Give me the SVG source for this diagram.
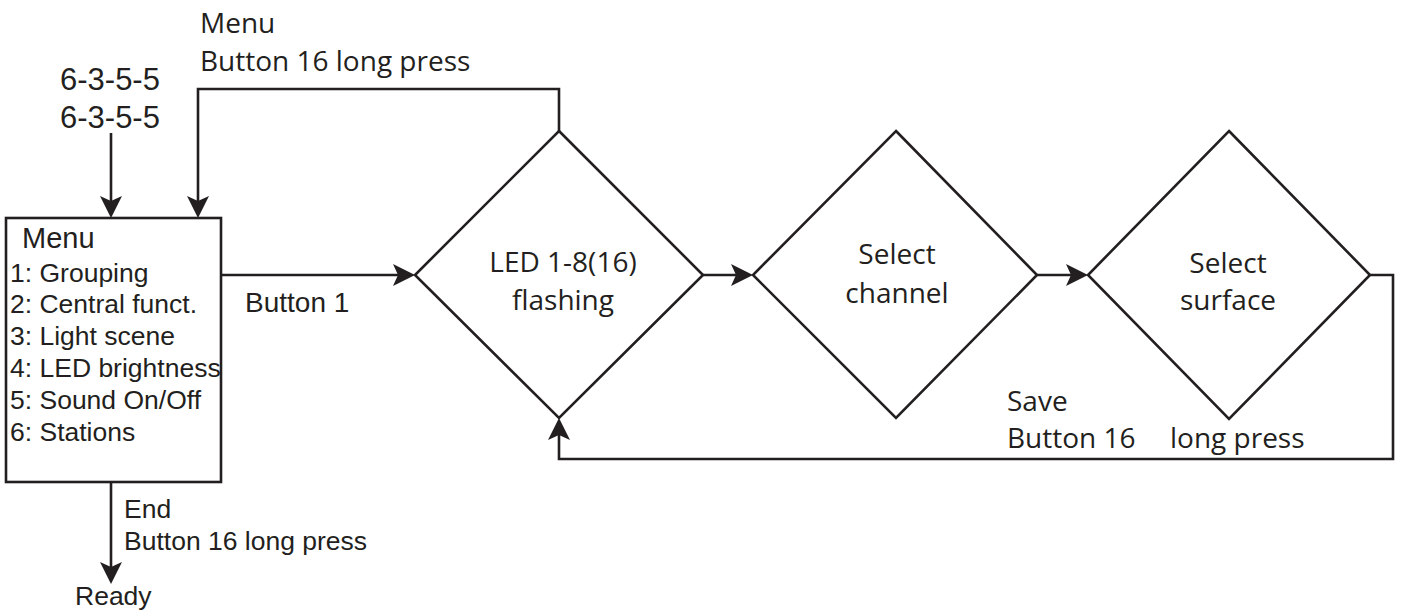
<svg xmlns="http://www.w3.org/2000/svg" width="1418" height="611" viewBox="0 0 1418 611">
<style>
.ln{fill:none;stroke:#231f20;stroke-width:2.6}
.shape{fill:#fff;stroke:#231f20;stroke-width:2.6}
.a{font-family:"Liberation Sans",Arial,sans-serif;font-size:26.5px;fill:#231f20}
.m{font-family:"Open Sans","Noto Sans",sans-serif;font-size:28px;fill:#231f20}
.mc{font-family:"Open Sans","Noto Sans",sans-serif;font-size:28px;fill:#231f20;text-anchor:middle}
</style>
<defs>
<marker id="arr" markerUnits="userSpaceOnUse" viewBox="0 0 22 22" refX="18" refY="11" markerWidth="22" markerHeight="22" orient="auto">
<path d="M0,0 L22,11 L0,22 L5,11 Z" fill="#231f20"/>
</marker>
</defs>
<g id="connectors">
<path class="ln" d="M111,133 V214" marker-end="url(#arr)"/>
<path class="ln" d="M559,131 V89 H198 V214" marker-end="url(#arr)"/>
<path class="ln" d="M221,275 H411" marker-end="url(#arr)"/>
<path class="ln" d="M703,275 H749" marker-end="url(#arr)"/>
<path class="ln" d="M1037,275 H1084" marker-end="url(#arr)"/>
<path class="ln" d="M1370,275 H1393 V459 H559 V422" marker-end="url(#arr)"/>
<path class="ln" d="M111,482 V580" marker-end="url(#arr)"/>
</g>
<g id="start-label">
<text class="a" x="60" y="90" style="font-size:31px">6-3-5-5</text>
<text class="a" x="60" y="128" style="font-size:31px">6-3-5-5</text>
</g>
<g id="menu-box">
<rect class="shape" x="6" y="218" width="215" height="264"/>
<text class="a" x="22" y="248" style="font-size:29px">Menu</text>
<text class="a" x="10" y="282">1: Grouping</text>
<text class="a" x="10" y="313">2: Central funct.</text>
<text class="a" x="10" y="345">3: Light scene</text>
<text class="a" x="10" y="377">4: LED brightness</text>
<text class="a" x="10" y="409">5: Sound On/Off</text>
<text class="a" x="10" y="441">6: Stations</text>
</g>
<g id="led-flashing">
<polygon class="shape" points="559,131 703,275 559,418 415,275"/>
<text class="mc" x="563" y="272">LED 1-8(16)</text>
<text class="mc" x="563" y="310">flashing</text>
</g>
<g id="select-channel">
<polygon class="shape" points="896,131 1037,275 896,418 753,275"/>
<text class="mc" x="897" y="264">Select</text>
<text class="mc" x="897" y="303">channel</text>
</g>
<g id="select-surface">
<polygon class="shape" points="1229,131 1370,275 1229,419 1088,275"/>
<text class="mc" x="1228" y="273">Select</text>
<text class="mc" x="1228" y="310">surface</text>
</g>
<g id="labels">
<text class="m" x="200" y="33">Menu</text>
<text class="m" x="200" y="71">Button 16 long press</text>
<text class="a" x="245" y="312" style="font-size:28px">Button 1</text>
<text class="a" x="124" y="518">End</text>
<text class="a" x="124" y="550">Button 16 long press</text>
<text class="a" x="75" y="605">Ready</text>
<text class="m" x="1007" y="411">Save</text>
<text class="m" x="1007" y="448">Button 16</text>
<text class="m" x="1170" y="448">long press</text>
</g>
</svg>
